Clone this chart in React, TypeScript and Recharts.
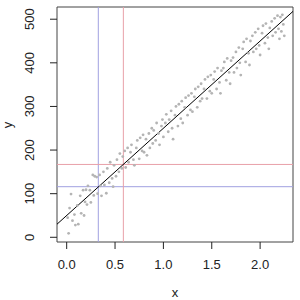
import React from 'react'
import {
  ScatterChart, Scatter, XAxis, YAxis, ReferenceLine, ReferenceArea,
} from 'recharts'

const xs = [
  0.01, 0.02, 0.03, 0.045, 0.06, 0.08, 0.09,
  0.11, 0.12, 0.14, 0.15, 0.17, 0.18, 0.19, 0.2,
  0.21, 0.22, 0.24, 0.25, 0.27, 0.28, 0.29,
  0.31, 0.32, 0.34, 0.35, 0.36, 0.38, 0.39,
  0.41, 0.42, 0.44, 0.45, 0.47, 0.48, 0.49,
  0.51, 0.52, 0.54, 0.55, 0.57, 0.58, 0.6,
  0.61, 0.63, 0.64, 0.66, 0.67, 0.69, 0.7,
  0.72, 0.73, 0.75, 0.76, 0.78, 0.79, 0.8,
  0.82, 0.83, 0.85, 0.86, 0.88, 0.89, 0.9,
  0.92, 0.93, 0.95, 0.96, 0.98, 0.99, 1.0,
  1.02, 1.03, 1.05, 1.06, 1.08, 1.09, 1.1,
  1.12, 1.13, 1.15, 1.16, 1.18, 1.19, 1.2,
  1.22, 1.23, 1.25, 1.26, 1.28, 1.29, 1.3,
  1.32, 1.33, 1.35, 1.36, 1.38, 1.39, 1.4,
  1.42, 1.43, 1.45, 1.46, 1.48, 1.49, 1.5,
  1.52, 1.53, 1.55, 1.56, 1.58, 1.59, 1.6,
  1.62, 1.63, 1.65, 1.66, 1.68, 1.69, 1.7,
  1.72, 1.73, 1.75, 1.76, 1.78, 1.79, 1.8,
  1.82, 1.83, 1.85, 1.86, 1.88, 1.89, 1.9,
  1.92, 1.93, 1.95, 1.96, 1.98, 1.99, 2.0,
  2.02, 2.03, 2.05, 2.06, 2.08, 2.09, 2.1,
  2.12, 2.13, 2.15, 2.16, 2.18, 2.19, 2.2,
  2.21, 2.22, 2.23, 2.24, 2.25,
]
const ys = [
  45, 9, 67, 99, 38, 52, 28,
  73, 30, 95, 55, 108, 50, 81, 109,
  75, 118, 108, 80, 143, 96, 140,
  138, 100, 143, 118, 95, 150, 120,
  101, 158, 125, 172, 135, 116, 165,
  140, 178, 150, 192, 158, 185, 198,
  160, 205, 172, 195, 212, 178, 165,
  205, 222, 180, 228, 198, 235, 195,
  225, 188, 238, 205, 250, 215, 245,
  222, 262, 238, 212, 255, 270, 230,
  262, 282, 242, 270, 290, 250, 225,
  280, 300, 255, 305, 272, 312, 262,
  298, 320, 280, 325, 292, 330, 288,
  322, 340, 298, 345, 312, 352, 318,
  340, 362, 318, 368, 335, 372, 330,
  362, 380, 340, 388, 355, 330, 382,
  388, 402, 360, 410, 378, 352, 405,
  412, 378, 425, 388, 435, 400, 372,
  432, 448, 402, 455, 422, 395, 450,
  462, 425, 470, 432, 478, 440, 418,
  468, 485, 445, 490, 458, 432, 480,
  495, 462, 502, 470, 508, 478, 455,
  505, 472, 510, 488, 462,
]

const xTicks = [0, 0.5, 1, 1.5, 2]
const yTicks = [0, 100, 200, 300, 400, 500]
const fitLine = [{ x: -0.1, y: 30 }, { x: 2.34, y: 518 }]
const blueCut = { x: 0.327, y: 116 }
const redCut = { x: 0.586, y: 167 }

const points = xs.map((x, i) => ({ x, y: ys[i] }))

const FONT = 'Liberation Sans, Arial, sans-serif'

function Dot(props: any) {
  const { cx, cy } = props
  return <circle cx={cx} cy={cy} r={1.4} fill="#b4b4b4" />
}

function YTick(props: any) {
  const { x, y, payload } = props
  return (
    <text x={x - 14} y={y} transform={`rotate(-90 ${x - 14} ${y})`} textAnchor="middle"
      fontSize={13} fontFamily={FONT} fill="#222">
      {payload.value}
    </text>
  )
}

function XTick(props: any) {
  const { x, y, payload } = props
  return (
    <text x={x} y={y + 18} textAnchor="middle" fontSize={13} fontFamily={FONT} fill="#222">
      {payload.value.toFixed(1)}
    </text>
  )
}

export default function App() {
  return (
    <div style={{ position: 'absolute', left: 0, top: 0, background: '#fff' }}>
      <ScatterChart width={300} height={300} margin={{ top: 7, right: 7, bottom: 0, left: 0 }}>
        <XAxis type="number" dataKey="x" domain={[-0.1, 2.34]} ticks={xTicks} height={58}
          allowDataOverflow tickSize={7} tickLine={{ stroke: '#222' }} axisLine={false}
          tick={<XTick />}
          label={{ content: () => <text x={175} y={297} textAnchor="middle" fontSize={13} fontFamily={FONT} fill="#222">x</text> }} />
        <YAxis type="number" dataKey="y" domain={[-10.8, 528]} ticks={yTicks} width={57}
          allowDataOverflow tickSize={7} tickLine={{ stroke: '#222' }} axisLine={false}
          tick={<YTick />}
          label={{ content: () => <text x={12} y={125} transform="rotate(-90 12 125)" textAnchor="middle" fontSize={13} fontFamily={FONT} fill="#222">y</text> }} />
        <Scatter data={points} shape={<Dot />} isAnimationActive={false} />
        <ReferenceLine x={blueCut.x} stroke="#a0a0e0" strokeWidth={1} />
        <ReferenceLine y={blueCut.y} stroke="#a0a0e0" strokeWidth={1} />
        <ReferenceLine x={redCut.x} stroke="#e8a0a8" strokeWidth={1} />
        <ReferenceLine y={redCut.y} stroke="#e8a0a8" strokeWidth={1} />
        <ReferenceLine segment={fitLine} stroke="#000" strokeWidth={1} />
        <ReferenceArea x1={-0.1} x2={2.34} y1={-10.8} y2={528} fill="none" stroke="#444" strokeWidth={1} />
      </ScatterChart>
    </div>
  )
}
